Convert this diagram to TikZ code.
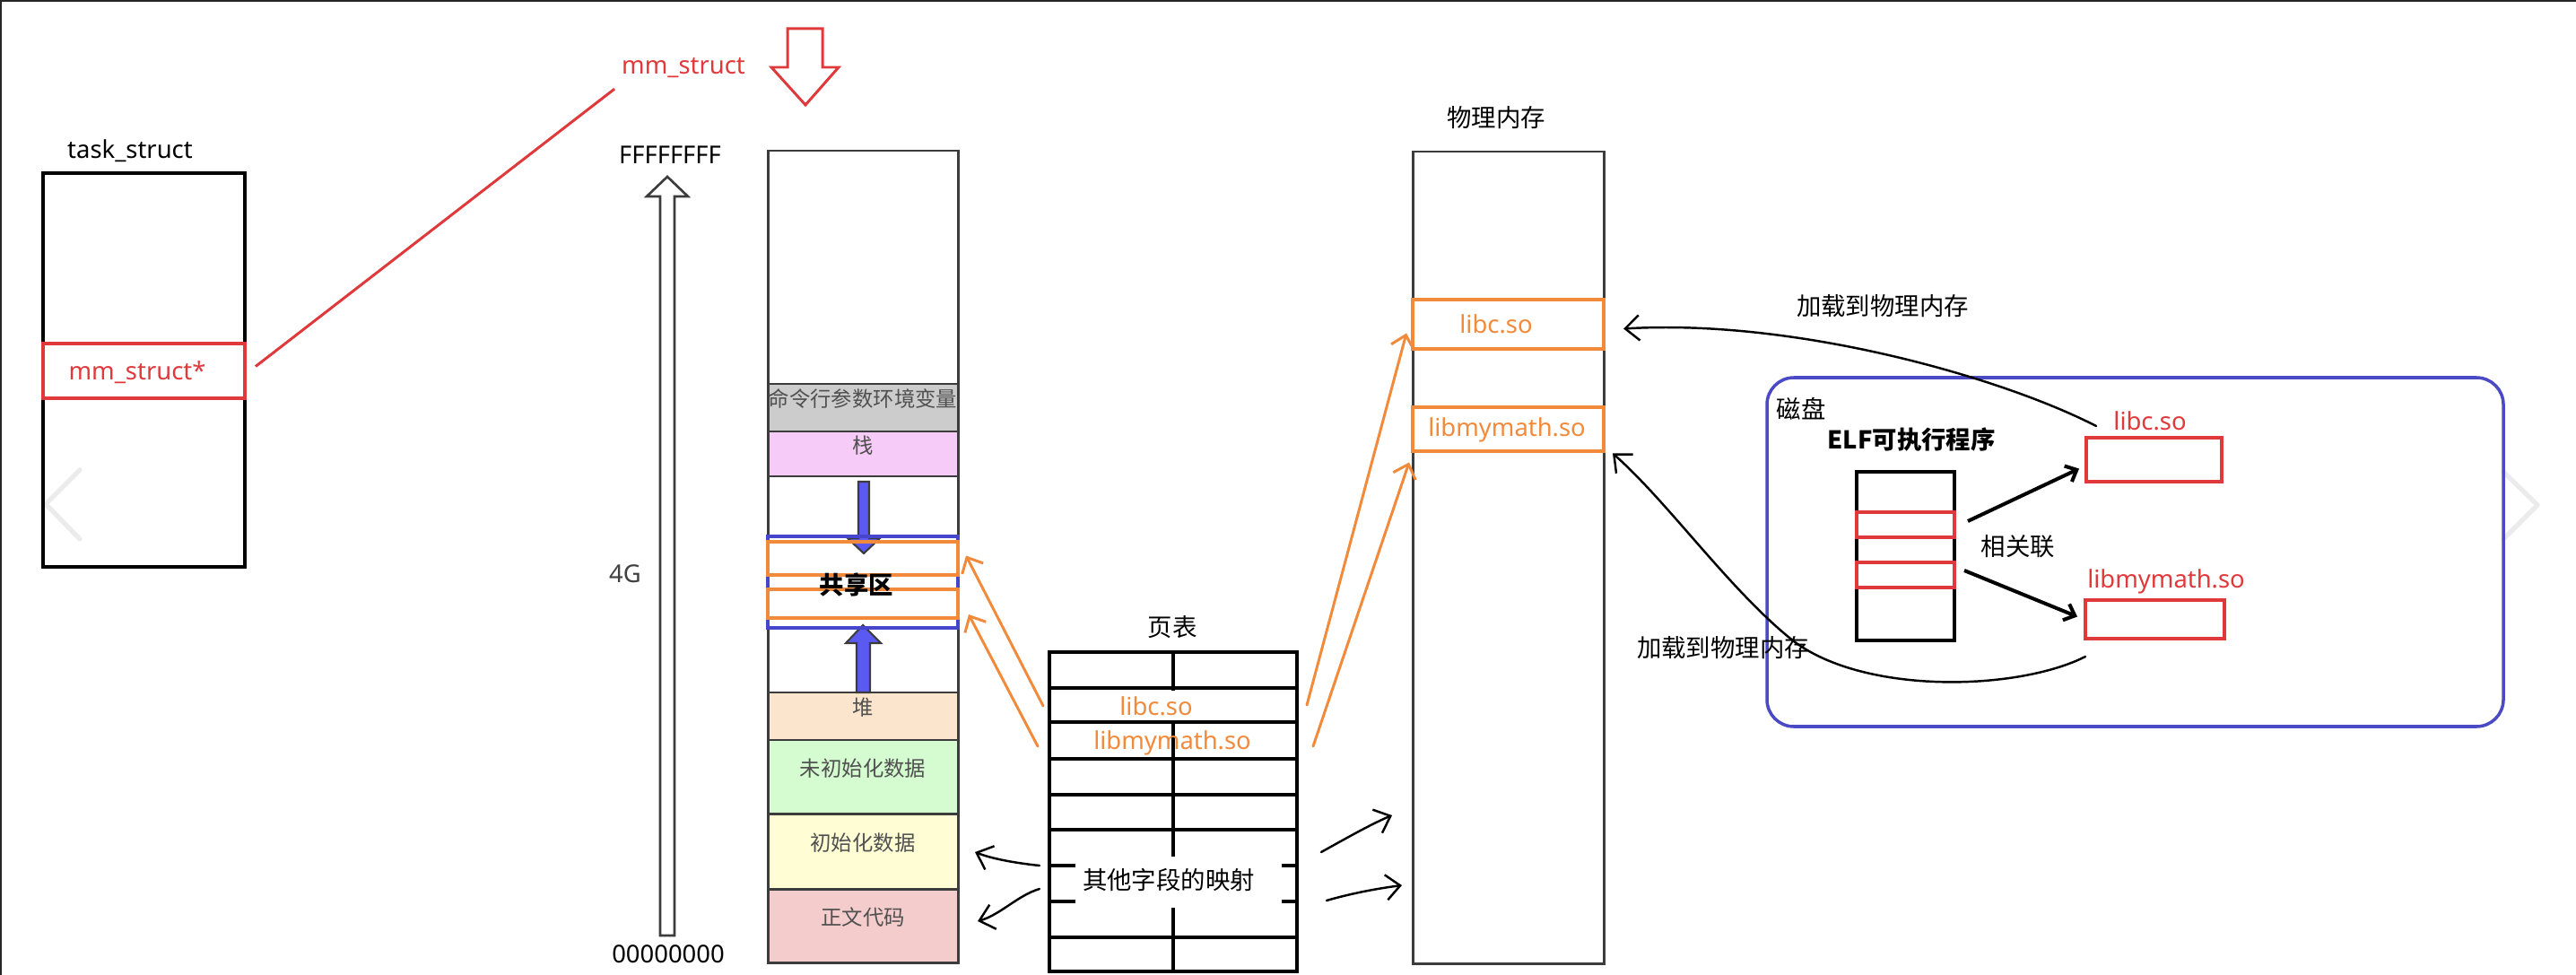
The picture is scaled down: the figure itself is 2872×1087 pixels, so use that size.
\documentclass[tikz,border=0pt]{standalone}
\usepackage{fontspec}
\setmainfont{Noto Sans CJK SC}
\newfontfamily\lat{Noto Sans}
\usetikzlibrary{arrows.meta,fit,calc}
\definecolor{myred}{HTML}{E0393B}
\definecolor{corange}{HTML}{F28A3C}
\definecolor{cblue}{HTML}{4646CC}
\definecolor{cdisk}{HTML}{4A4AC4}
\definecolor{cbarrow}{HTML}{5A5AF2}
\definecolor{dkline}{HTML}{3C3C3C}
\definecolor{rowtext}{HTML}{505050}
\definecolor{cgray}{HTML}{CCCCCC}
\definecolor{cpink}{HTML}{F7CBF7}
\definecolor{cpeach}{HTML}{FCE5CD}
\definecolor{cgreen}{HTML}{D5FBD0}
\definecolor{cyellow}{HTML}{FEFDD4}
\definecolor{crose}{HTML}{F4CCCC}
\begin{document}
\begin{tikzpicture}[x=0.02cm,y=-0.02cm,
  font=\fontsize{15.6}{18}\selectfont,
  every node/.style={inner sep=0, outer sep=0},
  lat/.style={font=\lat\fontsize{15.6}{18}\selectfont},
  boldtxt/.style={font=\bfseries\fontsize{15.6}{18}\selectfont},
  rowlbl/.style={font=\fontsize{13.3}{16}\selectfont, text=rowtext},
  vcell/.style={draw=dkline, line width=1.7pt},
  obox/.style={draw=corange, line width=2.2pt},
  rbox/.style={draw=myred, line width=2pt},
  chev/.style={draw=black!8, line width=3pt, line cap=round, line join=round},
  oarrow/.style={draw=corange, line width=1.7pt, line cap=round, -{Straight Barb[length=8pt,width=15pt]}},
  harrow/.style={draw=black, line width=1.4pt, line cap=round, -{Straight Barb[length=9pt,width=16pt]}},
  darrow/.style={draw=black, line width=2.3pt, -{Straight Barb[length=6pt,width=11pt]}},
  barrow/.style={draw=dkline, line width=1.2pt, fill=cbarrow, line join=miter},
]
\useasboundingbox (0,0) rectangle (2872,1087);
% screen frame and faint navigation chevrons
\draw[draw=black!85, line width=1.2pt] (1,1087) -- (1,1) -- (2872,1);
\draw[chev] (89,524) -- (51,562) -- (89,601);
\draw[chev] (2791,526) -- (2829,563) -- (2791,601);

% task_struct
\node[lat] (tasklbl) at (145,168) {task\_struct};
\node[fit={(48,193)(273,632)}, draw, line width=2pt] (task) {};
\node[fit={(48,383)(273,444)}, rbox] (mmptr) {};
\node[lat, text=myred] (mmptrlbl) at (153,415) {mm\_struct*};

% mm_struct label and link
\node[lat, text=myred] (mmlbl) at (762,76) {mm\_struct};
\draw[myred, line width=1.7pt] ($(mmptr.east)+(12,-5)$) -- ($(mmlbl.south west)+(-8,12)$);
\draw[myred, line width=1.7pt, fill=white, line join=miter] (878,32) -- (917,32) -- (917,75) -- (935,75) -- (898,117) -- (860,75) -- (878,75) -- cycle;

% address axis
\node[lat] (ffff) at (747,173) {FFFFFFFF};
\draw[dkline, line width=1.5pt, fill=white, line join=miter] (736,1043) -- (736,219) -- (721,219) -- (744,197) -- (767,219) -- (752,219) -- (752,1043) -- cycle;
\node[lat, text=black!75] (fourg) at (697,640) {4G};
\node[lat] (zero) at (745,1064) {00000000};

% virtual address space
\node[fit={(856,168)(1068,428)}, vcell] (vtop) {};
\node[fit={(856,428)(1068,481)}, vcell, fill=cgray, rowlbl] (vargs) {命令行参数环境变量};
\node[fit={(856,481)(1068,531)}, vcell, fill=cpink, rowlbl] (vstack) {栈};
\node[fit={(856,531)(1068,772)}, vcell] (vgap) {};
\node[fit={(856,772)(1068,825)}, vcell, fill=cpeach, rowlbl] (vheap) {堆};
\node[fit={(856,825)(1068,907)}, vcell, fill=cgreen, rowlbl] (vbss) {未初始化数据};
\node[fit={(856,907)(1068,991)}, vcell, fill=cyellow, rowlbl] (vdata) {初始化数据};
\node[fit={(856,991)(1068,1073)}, vcell, fill=crose, rowlbl] (vtext) {正文代码};
\draw[barrow] (957,537) -- (969,537) -- (969,600) -- (981,600) -- (963,617) -- (945,600) -- (957,600) -- cycle;
\draw[barrow] (955,772) -- (955,717) -- (943,717) -- (962,697) -- (982,717) -- (970,717) -- (970,772) -- cycle;
\node[fit={(856,598)(1068,700)}, draw=cblue, line width=2pt] (vshare) {};
\node[fit={(856,604)(1068,641)}, obox] (vlibc) {};
\node[fit={(856,657)(1068,689)}, obox] (vmath) {};
\node[boldtxt] (sharelbl) at (955,652) {共享区};

% page table
\node (ptlbl) at (1307,699) {页表};
\node[fit={(1170,727)(1446,1083)}, draw, line width=2pt] (ptab) {};
\foreach \yy in {767,805,846,886,925,965,1005,1045}
  \draw[line width=2pt] (1170,\yy) -- (1446,\yy);
\draw[line width=2pt] (1308,727) -- (1308,1083);
\fill[white] (1238,770) rectangle (1360,803);
\node[lat, text=corange] (ptlibc) at (1289,787) {libc.so};
\node[lat, text=corange] (ptmath) at (1307,828) {libmymath.so};
\fill[white] (1199,955) rectangle (1429,1012);
\node (ptother) at (1303,981) {其他字段的映射};

% physical memory
\node (physlbl) at (1668,131) {物理内存};
\node[fit={(1575,169)(1788,1074)}, vcell] (phys) {};
\node[fit={(1575,334)(1788,389)}, obox] (plibc) {};
\node[lat, text=corange] (plibclbl) at (1668,361) {libc.so};
\node[fit={(1575,454)(1788,503)}, obox] (pmath) {};
\node[lat, text=corange] (pmathlbl) at (1680,479) {libmymath.so};

% disk
\node[fit={(1970,421)(2791,810)}, draw=cdisk, line width=2pt, rounded corners=0.6cm] (disk) {};
\node (disklbl) at (2008,456) {磁盘};
\node[boldtxt] (elflbl) at (2131,490) {ELF可执行程序};
\node[fit={(2070,526)(2179,714)}, draw, line width=2.3pt] (elf) {};
\node[fit={(2070,571)(2179,599)}, rbox] (elf1) {};
\node[fit={(2070,627)(2179,655)}, rbox] (elf2) {};
\node[lat, text=myred] (dlibclbl) at (2397,469) {libc.so};
\node[fit={(2326,488)(2477,537)}, rbox] (dlibc) {};
\node[lat, text=myred] (dmathlbl) at (2415,648) {libmymath.so};
\node[fit={(2325,669)(2480,712)}, rbox] (dmath) {};
\node (rellbl) at (2250,609) {相关联};
\draw[darrow] ($(elf1.east)+(15,-4)$) -- ($(dlibc.west)+(-8,10)$);
\draw[darrow] ($(elf2.east)+(11,-5)$) -- ($(dmath.west)+(-9,-3)$);

% load curves
\node (load1) at (2099,341) {加载到物理内存};
\node (load2) at (1921,722) {加载到物理内存};
\draw[harrow] ($(dlibc.north west)+(11,-13)$) .. controls (2230,420) and (2000,355) .. ($(plibc.east)+(22,5)$);
\draw[harrow] ($(dmath.south west)+(0,20)$) .. controls (2250,770) and (2080,775) .. (2000,715) .. controls (1930,660) and (1860,560) .. ($(pmath.east)+(10,27)$);

% orange mappings
\draw[oarrow] ($(ptab.north west)+(-7,60)$) -- ($(vlibc.east)+(9,-3)$);
\draw[oarrow] ($(ptab.north west)+(-13,105)$) -- ($(vmath.east)+(12,12)$);
\draw[oarrow] ($(ptab.north east)+(11,59)$) -- ($(plibc.west)+(-7,10)$);
\draw[oarrow] ($(ptab.north east)+(18,105)$) -- ($(pmath.west)+(-4,37)$);

% other segment mappings
\draw[harrow] ($(ptab.north west)+(-11,238)$) .. controls (1130,962) and (1105,957) .. ($(vdata.east)+(19,1)$);
\draw[harrow] ($(ptab.north west)+(-11,264)$) .. controls (1135,998) and (1115,1020) .. ($(vtext.east)+(22,-5)$);
\draw[harrow] ($(ptab.north east)+(27,223)$) .. controls (1500,935) and (1530,918) .. ($(phys.south west)+(-23,-165)$);
\draw[harrow] ($(ptab.north east)+(33,277)$) .. controls (1510,995) and (1540,990) .. ($(phys.south west)+(-12,-87)$);
\end{tikzpicture}
\end{document}
